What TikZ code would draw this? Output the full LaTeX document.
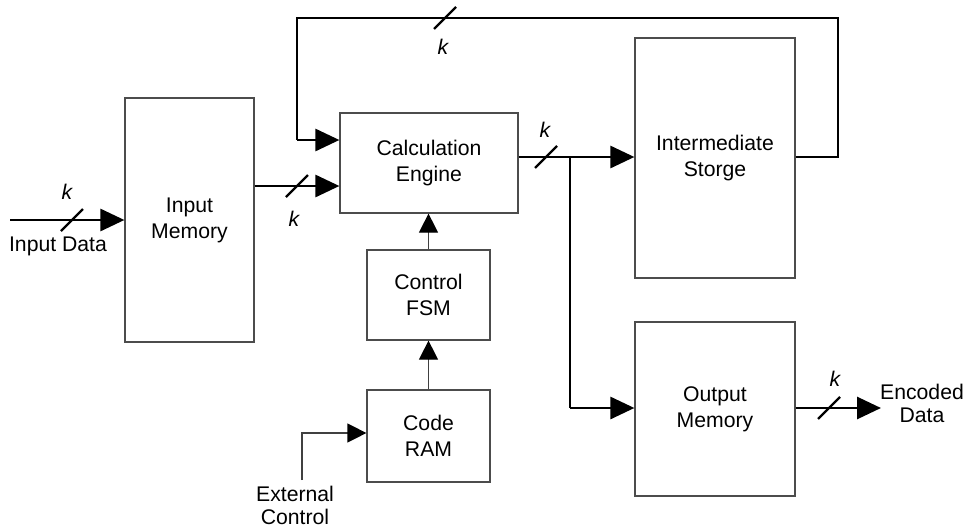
\documentclass[tikz,border=0pt]{standalone}
\usepackage{fontspec}
\setmainfont{Liberation Sans}
\usetikzlibrary{arrows.meta}
\begin{document}
\begin{tikzpicture}[x=1pt,y=-1pt,
  blockbox/.style={draw=black!70,line width=1.2pt,inner sep=0pt,align=center,font=\fontsize{21.2}{26}\selectfont},
  bus/.style={line width=2.8pt,-{Triangle[length=24pt,width=22pt]}},
  busline/.style={line width=2.8pt},
  ctrl/.style={draw=black!75,line width=1.2pt,-{Triangle[length=19pt,width=19pt,color=black]}},
  lbl/.style={font=\fontsize{21.2}{23}\selectfont,align=center,inner sep=0pt},
  klbl/.style={font=\itshape\fontsize{21.2}{23}\selectfont,inner sep=0pt},
  slash/.style={line width=2.4pt}]
\useasboundingbox (0,0) rectangle (964,531);

% blocks
\node[blockbox,minimum width=129pt,minimum height=244pt] (inmem) at (189.5,220) {Input\\Memory};
\node[blockbox,minimum width=178pt,minimum height=100pt] (calc) at (429,163) {Calculation\\Engine};
\node[blockbox,minimum width=123pt,minimum height=90pt] (fsm) at (428.5,295) {Control\\FSM};
\node[blockbox,minimum width=123pt,minimum height=92pt] (ram) at (428.5,436) {Code\\RAM};
\node[blockbox,minimum width=160pt,minimum height=240pt] (inter) at (715,158) {Intermediate\\Storge};
\node[blockbox,minimum width=160pt,minimum height=174pt] (outmem) at (715,409) {Output\\Memory};

% free ends
\coordinate (inStart) at (10,220);
\coordinate (outEnd) at (881,408);
\coordinate (extStart) at (302,480);
\coordinate (branch) at (570,157);

% input data
\draw[bus] (inStart) -- (inmem.west |- inStart);
\draw[slash] (61,231) -- (83,209);
\node[klbl] (k1) at (67,192) {k};
\node[lbl] (indata) at (58,246) {Input Data};

% input memory to calculation engine
\draw[bus] (inmem.east |- 0,186) -- (calc.west |- 0,186);
\draw[slash] (286,197) -- (308,175);
\node[klbl] (k2) at (294,219) {k};

% feedback loop from intermediate storage
\draw[busline] (inter.east |- 0,157) -- (838,157) -- (838,18) -- (297,18) -- (297,140);
\draw[bus] (297,140) -- (calc.west |- 0,140);
\draw[slash] (434,29) -- (456,7);
\node[klbl] (k3) at (443,47) {k};

% calculation engine output
\draw[bus] (calc.east |- branch) -- (inter.west |- branch);
\draw[slash] (535,168) -- (557,146);
\node[klbl] (k4) at (545,130) {k};
\draw[busline] (branch) -- (570,408);
\draw[bus] (570,408) -- (outmem.west |- 0,408);

% output memory to encoded data
\draw[bus] (outmem.east |- outEnd) -- (outEnd);
\draw[slash] (818,419) -- (840,397);
\node[klbl] (k5) at (835,379) {k};
\node[lbl] (encdata) at (922,403) {Encoded\\Data};

% control path
\draw[ctrl] (ram.north) -- (fsm.south);
\draw[ctrl] (fsm.north) -- (calc.south -| fsm.north);
\draw[ctrl] (extStart) -- (302,433) -- (ram.west |- 0,433);
\node[lbl] (ext) at (295,505) {External\\Control};
\end{tikzpicture}
\end{document}
